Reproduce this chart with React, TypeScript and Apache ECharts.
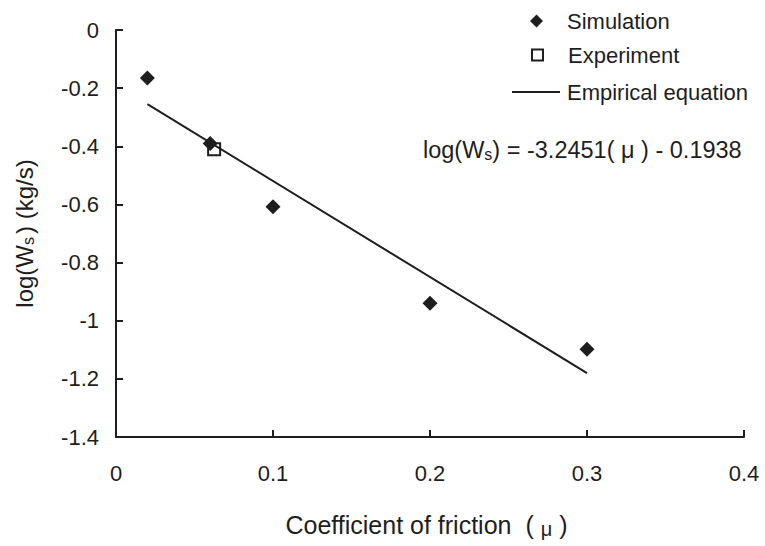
import React, { useEffect, useRef } from "react";
import * as echarts from "echarts";

const simulationX = [0.02, 0.06, 0.1, 0.2, 0.3];
const simulationY = [-0.165, -0.39, -0.608, -0.94, -1.098];
const experimentX = [0.0625];
const experimentY = [-0.41];
const empiricalX = [0.02, 0.3];
const empiricalY = [-0.255, -1.18];
const xTicks = [0, 0.1, 0.2, 0.3, 0.4];
const yTicks = [-1.4, -1.2, -1, -0.8, -0.6, -0.4, -0.2, 0];

const INK = "#1e1e1e";
const FONT = "'Liberation Sans', Arial, sans-serif";

export default function App() {
  const ref = useRef<HTMLDivElement>(null);
  useEffect(() => {
    if (!ref.current) return;
    const chart = echarts.init(ref.current, undefined, { renderer: "svg" });
    const zip = (xs: number[], ys: number[]) => xs.map((x, i) => [x, ys[i]]);
    const legendText = { fontFamily: FONT, fontSize: 22, color: INK, lineHeight: 22 };
    chart.setOption({
      animation: false,
      backgroundColor: "#ffffff",
      textStyle: { fontFamily: FONT, color: INK },
      grid: { left: 116, right: 21, top: 30, bottom: 109 },
      legend: [
        {
          left: 525,
          top: 5,
          padding: 5,
          itemWidth: 13,
          itemHeight: 13,
          textStyle: { ...legendText, padding: [0, 0, 0, 19] },
          data: ["Simulation"],
        },
        {
          left: 526,
          top: 39,
          padding: 5,
          itemWidth: 11,
          itemHeight: 11,
          textStyle: { ...legendText, padding: [0, 0, 0, 20] },
          data: ["Experiment"],
        },
        {
          left: 507,
          top: 75,
          padding: 5,
          itemWidth: 48,
          itemHeight: 2,
          textStyle: { ...legendText, padding: [2, 0, 0, 2] },
          data: [{ name: "Empirical equation", icon: "rect" }],
        },
      ],
      xAxis: {
        type: "value",
        min: xTicks[0],
        max: xTicks[xTicks.length - 1],
        interval: 0.1,
        name: "Coefficient of friction {p|(}{m|μ}{p|)}",
        nameLocation: "middle",
        nameGap: 74,
        nameTextStyle: {
          fontFamily: FONT,
          fontSize: 25,
          color: INK,
          rich: {
            p: { fontFamily: FONT, fontSize: 25, color: INK, padding: [0, 7, 0, 7] },
            m: { fontFamily: FONT, fontSize: 20, color: INK, padding: [8, 0, 0, 0] },
          },
        },
        axisLine: { onZero: false, lineStyle: { color: INK, width: 2 } },
        axisTick: { inside: true, length: 7, lineStyle: { color: INK, width: 2 } },
        axisLabel: { margin: 25, fontSize: 22, color: INK, fontFamily: FONT },
        splitLine: { show: false },
      },
      yAxis: {
        type: "value",
        min: yTicks[0],
        max: yTicks[yTicks.length - 1],
        interval: 0.2,
        name: "log(W{s|s}) (kg/s)",
        nameLocation: "middle",
        nameGap: 80,
        nameTextStyle: {
          fontFamily: FONT,
          fontSize: 24,
          color: INK,
          rich: {
            s: { fontFamily: FONT, fontSize: 16, color: INK, padding: [8, 3, 0, 0] },
          },
        },
        axisLine: { onZero: false, lineStyle: { color: INK, width: 2 } },
        axisTick: { inside: true, length: 7, lineStyle: { color: INK, width: 2 } },
        axisLabel: { margin: 17, fontSize: 22, color: INK, fontFamily: FONT },
        splitLine: { show: false },
      },
      graphic: [
        {
          type: "text",
          left: 423,
          top: 138,
          style: {
            text: "log(W{s|s}) = -3.2451( μ ) - 0.1938",
            font: `23.5px ${FONT}`,
            fill: INK,
            rich: {
              s: { fontFamily: FONT, fontSize: 16, fill: INK, padding: [8, 0, 0, 0] },
            },
          },
        },
      ],
      series: [
        {
          name: "Empirical equation",
          type: "line",
          data: zip(empiricalX, empiricalY),
          symbol: "none",
          lineStyle: { color: INK, width: 2 },
          itemStyle: { color: INK },
          z: 1,
        },
        {
          name: "Simulation",
          type: "scatter",
          data: zip(simulationX, simulationY),
          symbol: "diamond",
          symbolSize: 15,
          itemStyle: { color: INK, opacity: 1 },
          z: 2,
        },
        {
          name: "Experiment",
          type: "scatter",
          data: zip(experimentX, experimentY),
          symbol: "rect",
          symbolSize: 12,
          itemStyle: { color: "rgba(255,255,255,0)", borderColor: INK, borderWidth: 2, opacity: 1 },
          z: 3,
        },
      ],
    });
    return () => chart.dispose();
  }, []);
  return <div ref={ref} style={{ width: 765, height: 546, position: "absolute", left: 0, top: 0 }} />;
}
